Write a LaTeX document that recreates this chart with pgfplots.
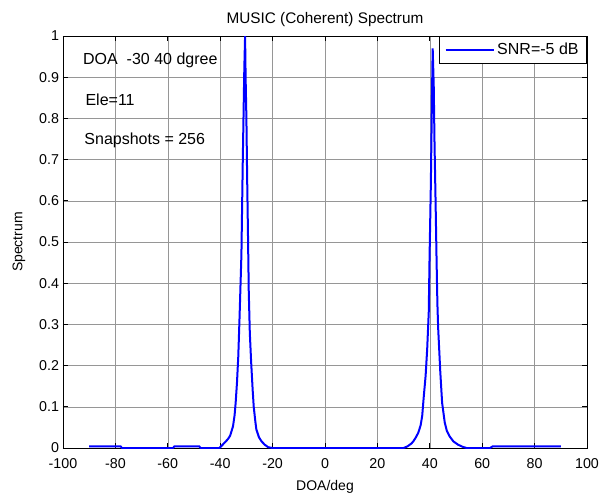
\documentclass[border=0pt]{standalone}
\usepackage{fontspec}
\setmainfont{Liberation Sans}
\usepackage{pgfplots}
\pgfplotsset{compat=1.18}
\definecolor{gridgray}{RGB}{150,150,150}
\begin{document}
\fontsize{10}{12}\selectfont
\begin{tikzpicture}
\path[use as bounding box] (-47.25pt,-34.5pt) rectangle (408pt,336pt);
\begin{axis}[
  at={(0pt,0pt)}, anchor=south west,
  scale only axis,
  width=393pt, height=309pt,
  xmin=-100, xmax=100, ymin=0, ymax=1,
  xtick={-100,-80,...,100},
  ytick={0,0.1,...,1},
  yticklabels={0,0.1,0.2,0.3,0.4,0.5,0.6,0.7,0.8,0.9,1},
  /pgf/number format/assume math mode=true,
  tick label style={font=\fontsize{10.7}{12}\selectfont},
  xticklabel style={yshift=-4pt},
  yticklabel style={xshift=0.5pt},
  label style={font=\fontsize{10.5}{12}\selectfont},
  title style={font=\fontsize{11.5}{13}\selectfont, yshift=-2.5pt},
  tick align=inside,
  major tick length=3.5pt,
  grid=major,
  major grid style={gridgray, line width=0.4pt},
  axis line style={black, line width=0.6pt},
  every tick/.style={black, line width=0.5pt},
  title={MUSIC (Coherent) Spectrum},
  xlabel={DOA/deg},
  ylabel={Spectrum},
  xlabel style={yshift=-2.5pt},
  ylabel style={yshift=3.5pt},
  legend style={at={(1,1)}, anchor=north east, draw=black, line width=0.6pt,
    font=\fontsize{12}{14}\selectfont, inner xsep=4pt, inner ysep=3pt},
  legend cell align=left,
  legend image code/.code={\draw[#1] (0pt,0pt) -- (36pt,0pt);},
  legend image post style={blue, line width=1.5pt},
]
\addplot[blue, line width=1.5pt] coordinates {
(-90,0.004) (-78,0.004) (-77.5,0) (-58,0) (-57.5,0.004) (-48,0.004) (-47.5,0) (-40.3,0)
(-38.3,0.013) (-37,0.022) (-36.2,0.03) (-35.1,0.053) (-34.5,0.08) (-34.1,0.11) (-33.6,0.158) (-33.1,0.222) (-32.6,0.32) (-31.9,0.47) (-31.4,0.69) (-30.8,0.92) (-30.5,1.0)
(-30.3,0.90) (-30.0,0.80) (-29.7,0.65) (-29.4,0.52) (-29.1,0.38) (-28.7,0.28) (-28.2,0.21) (-27.6,0.14) (-27.2,0.10) (-26.6,0.065) (-26.2,0.045) (-25.2,0.026) (-24.2,0.016) (-23,0.008) (-21.7,0.002) (-20,0)
(30,0) (31.5,0.004) (33,0.011) (33.7,0.016) (34.7,0.026) (35.6,0.037) (36.5,0.055) (37.1,0.078) (37.7,0.125) (38.4,0.175) (39.0,0.24) (39.6,0.33) (39.9,0.46) (40.4,0.64) (40.8,0.84) (41.1,0.97)
(41.5,0.88) (41.8,0.74) (42.2,0.60) (42.6,0.45) (42.9,0.35) (43.2,0.29) (44.0,0.185) (44.7,0.11) (45.7,0.062) (46.5,0.042) (47.6,0.028) (49,0.016) (50.8,0.008) (52.5,0.003) (54,0) (63,0) (64,0.004) (90,0.004)
};
\addlegendentry{SNR=-5 dB}
\node[anchor=west, inner sep=0pt, font=\fontsize{12}{14}\selectfont] at (axis cs:-92.4,0.94) {DOA\ \ -30 40 dgree};
\node[anchor=west, inner sep=0pt, font=\fontsize{12}{14}\selectfont] at (axis cs:-91.5,0.844) {Ele=11};
\node[anchor=west, inner sep=0pt, font=\fontsize{12}{14}\selectfont] at (axis cs:-91.9,0.747) {Snapshots = 256};
\end{axis}
\end{tikzpicture}
\end{document}
